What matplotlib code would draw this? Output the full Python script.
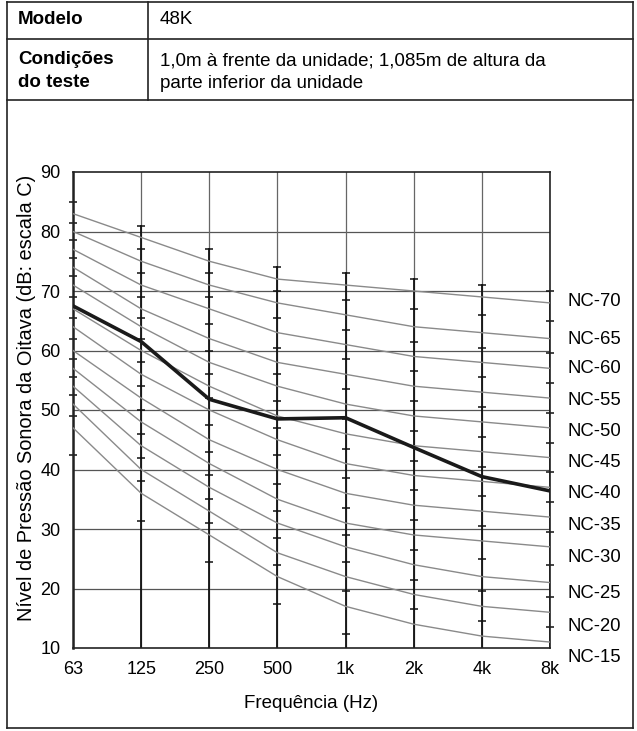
import matplotlib.pyplot as plt
from matplotlib.lines import Line2D

plt.rcParams['font.family'] = ['Liberation Sans', 'DejaVu Sans']

# Data
freq_labels = ['63', '125', '250', '500', '1k', '2k', '4k', '8k']
nc_names = ['NC-70', 'NC-65', 'NC-60', 'NC-55', 'NC-50', 'NC-45',
            'NC-40', 'NC-35', 'NC-30', 'NC-25', 'NC-20', 'NC-15']
nc_curves = [
    [83, 79, 75, 72, 71, 70, 69, 68],
    [80, 75, 71, 68, 66, 64, 63, 62],
    [77, 71, 67, 63, 61, 59, 58, 57],
    [74, 67, 62, 58, 56, 54, 53, 52],
    [71, 64, 58, 54, 51, 49, 48, 47],
    [67, 60, 54, 49, 46, 44, 43, 42],
    [64, 56, 50, 45, 41, 39, 38, 37],
    [60, 52, 45, 40, 36, 34, 33, 32],
    [57, 48, 41, 35, 31, 29, 28, 27],
    [54, 44, 37, 31, 27, 24, 22, 21],
    [51, 40, 33, 26, 22, 19, 17, 16],
    [47, 36, 29, 22, 17, 14, 12, 11],
]
measured = [67.5, 61.5, 51.8, 48.5, 48.7, 43.7, 38.8, 36.4]

model_text = '48K'
cond_text = '1,0m à frente da unidade; 1,085m de altura da\nparte inferior da unidade'

W, H = 637, 731
fig = plt.figure(figsize=(W / 100, H / 100), dpi=100)


def fx(x):
    return x / W


def fy(y):
    return 1 - y / H


# table borders
def hline(y, x0=7, x1=633, lw=1.2):
    fig.add_artist(Line2D([fx(x0), fx(x1)], [fy(y), fy(y)], color='#222222', lw=lw))


def vline(x, y0, y1, lw=1.2):
    fig.add_artist(Line2D([fx(x), fx(x)], [fy(y0), fy(y1)], color='#222222', lw=lw))


hline(2)
hline(39)
hline(100)
hline(728)
vline(7, 2, 728)
vline(633, 2, 728)
vline(148, 2, 100)

fs_head = 13.5
fig.text(fx(18), fy(20), 'Modelo', fontsize=fs_head, fontweight='bold', va='center')
fig.text(fx(160), fy(20), model_text, fontsize=fs_head, va='center')
fig.text(fx(18), fy(71), 'Condições\ndo teste', fontsize=fs_head, fontweight='bold',
         va='center', linespacing=1.45)
fig.text(fx(160), fy(72), cond_text, fontsize=fs_head, va='center', linespacing=1.4)

# chart
ax = fig.add_axes([fx(73), fy(648), fx(550) - fx(73), fy(172) - fy(648)])
x = list(range(len(freq_labels)))

for v in range(20, 90, 10):
    ax.axhline(v, color='#555555', lw=0.9, zorder=1)
for xi in x:
    ax.axvline(xi, color='#666666', lw=0.9, zorder=1)

# thick frequency bars with band ticks
for i in x:
    col = [c[i] for c in nc_curves]
    top = col[0] + 2
    bottom = max(col[-1] - 4.6, 10)
    ax.plot([i, i], [10, top], color='#111111', lw=1.3, zorder=2)
    ticks = [top, bottom] + [(col[k] + col[k + 1]) / 2 for k in range(len(col) - 1)]
    ticks = [t for t in ticks if t > 10]
    ax.plot([i] * len(ticks), ticks, linestyle='none', marker='_', markersize=6,
            markeredgewidth=1.1, color='#111111', zorder=2, clip_on=False)

for c in nc_curves:
    ax.plot(x, c, color='#8a8a8a', lw=1.0, zorder=3)

ax.plot(x, measured, color='#1a1a1a', lw=2.6, zorder=4, solid_joinstyle='round')

label_pos = [68.2, 61.9, 56.9, 51.6, 46.4, 41.1, 35.9, 30.6, 25.2, 19.1, 13.6, 8.4]
for name, yp in zip(nc_names, label_pos):
    ax.text(7.25, yp, name, fontsize=13.3, va='center', ha='left', clip_on=False)

ax.set_xlim(0, 7)
ax.set_ylim(10, 90)
ax.set_xticks(x)
ax.set_xticklabels(freq_labels)
ax.set_yticks(range(10, 100, 10))
ax.tick_params(length=0, labelsize=13, pad=9)
ax.tick_params(axis='y', pad=9)
for s in ax.spines.values():
    s.set_color('#222222')
    s.set_linewidth(1.2)
ax.spines['left'].set_linewidth(1.8)

fig.text(fx(311), fy(703), 'Frequência (Hz)', fontsize=13.5, ha='center', va='center')
fig.text(fx(27), fy(398), 'Nível de Pressão Sonora da Oitava (dB: escala C)', fontsize=14.4,
         ha='center', va='center', rotation=90)

fig.savefig('out.png', dpi=100)
